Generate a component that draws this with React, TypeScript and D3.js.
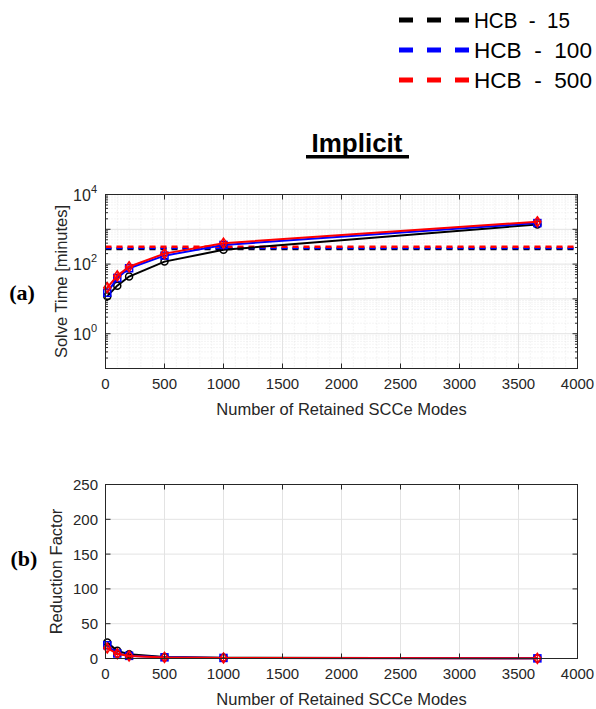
import React from 'react';
import * as d3 from 'd3';

// x positions (number of retained SCCe modes)
const modes = [15, 100, 200, 500, 1000, 3660];

// solve time [minutes]
const solve15 = [12, 24, 44, 118, 257, 1380];
const solve100 = [15, 40, 76, 175, 355, 1510];
const solve500 = [21, 46, 84, 200, 400, 1650];

// HCB reference solve times (dashed lines)
const hcbTimes = [270, 290, 315];

// reduction factor
const red15 = [23, 11, 6, 2.3, 1.0, 0.2];
const red100 = [19, 7.2, 3.8, 1.7, 0.8, 0.2];
const red500 = [15, 6.8, 3.7, 1.6, 0.8, 0.2];

const xTicks = [0, 500, 1000, 1500, 2000, 2500, 3000, 3500, 4000];
const logTicks = [0.1, 1, 10, 100, 1000, 10000];
const logLabels = [0, 2, 4];
const linTicks = [0, 50, 100, 150, 200, 250];

const seriesNames = ['HCB  -  15', 'HCB  -  100', 'HCB  -  500'];
const colors = ['#000000', '#0000ff', '#ff0000'];

const L = 105.5, R = 577.5;
const topA = 194.5, botA = 368.5;
const topB = 484.5, botB = 658.5;

const font = 'Liberation Sans, Arial, sans-serif';
const tickCol = '#262626';

const x = d3.scaleLinear().domain([0, 4000]).range([L, R]);
const yA = d3.scaleLog().domain([0.1, 10000]).range([botA, topA]);
const yB = d3.scaleLinear().domain([0, 250]).range([botB, topB]);

function Marker({ kind, cx, cy, color }: { kind: number; cx: number; cy: number; color: string }) {
  if (kind === 0) return <circle cx={cx} cy={cy} r={3.5} fill="none" stroke={color} strokeWidth={1.5} />;
  if (kind === 1) return <rect x={cx - 3.5} y={cy - 3.5} width={7} height={7} fill="none" stroke={color} strokeWidth={1.5} />;
  return (
    <g stroke={color} strokeWidth={1.5} fill="none">
      <path d={`M${cx},${cy - 5}L${cx + 3.5},${cy}L${cx},${cy + 5}L${cx - 3.5},${cy}Z`} />
      <path d={`M${cx},${cy - 5}V${cy + 5}M${cx - 3.5},${cy}H${cx + 3.5}`} strokeWidth={1} />
    </g>
  );
}

function Series({ ys, y, idx }: { ys: number[]; y: (v: number) => number; idx: number }) {
  const line = d3.line<number>().x((_, i) => x(modes[i])).y(d => y(d));
  return (
    <g>
      <path d={line(ys) || ''} fill="none" stroke={colors[idx]} strokeWidth={2} />
      {ys.map((v, i) => (
        <Marker key={i} kind={idx} cx={x(modes[i])} cy={y(v)} color={colors[idx]} />
      ))}
    </g>
  );
}

function XAxis({ bottom, top }: { bottom: number; top: number }) {
  return (
    <g>
      {xTicks.map(t => (
        <g key={t}>
          <line x1={x(t)} x2={x(t)} y1={bottom} y2={bottom - 5} stroke={tickCol} />
          <line x1={x(t)} x2={x(t)} y1={top} y2={top + 5} stroke={tickCol} />
          <text x={x(t)} y={bottom + 20} textAnchor="middle" fontSize={15} fill={tickCol} fontFamily={font}>{t}</text>
        </g>
      ))}
      <text x={(L + R) / 2} y={bottom + 46} textAnchor="middle" fontSize={16.5} fill={tickCol} fontFamily={font}>
        Number of Retained SCCe Modes
      </text>
    </g>
  );
}

export default function App() {
  const minor: number[] = [];
  for (let d = -1; d < 4; d++) for (let k = 2; k < 10; k++) minor.push(k * Math.pow(10, d));
  const xMinor = d3.range(0, 4001, 100).filter(v => v % 500 !== 0);

  return (
    <svg width={596} height={709} style={{ position: 'absolute', left: 0, top: 0, background: '#fff' }}>
      {/* legend */}
      {seriesNames.map((s, i) => (
        <g key={s}>
          <line x1={399} x2={470} y1={20 + i * 30} y2={20 + i * 30} stroke={colors[i]} strokeWidth={5} strokeDasharray="14 14" />
          <text x={474} y={28 + i * 30} fontSize={22} fill="#000" fontFamily={font} textLength={s.length > 10 ? 118 : 96} lengthAdjust="spacingAndGlyphs">{s.replace(/ /g, '\u00a0')}</text>
        </g>
      ))}

      {/* title */}
      <text x={357} y={152} textAnchor="middle" fontSize={26} fontWeight="bold" fontFamily={font}>Implicit</text>
      <rect x={306} y={155} width={103} height={3.5} fill="#000" />

      {/* panel (a) */}
      <g>
        {xMinor.map(v => (
          <line key={v} x1={x(v)} x2={x(v)} y1={topA} y2={botA} stroke="#dcdcdc" strokeWidth={0.6} strokeDasharray="1 2" />
        ))}
        {minor.map(v => (
          <line key={v} x1={L} x2={R} y1={yA(v)} y2={yA(v)} stroke="#dcdcdc" strokeWidth={0.6} strokeDasharray="1 2" />
        ))}
        {xTicks.map(t => (
          <line key={t} x1={x(t)} x2={x(t)} y1={topA} y2={botA} stroke="#e3e3e3" />
        ))}
        {logTicks.map(t => (
          <line key={t} x1={L} x2={R} y1={yA(t)} y2={yA(t)} stroke="#e3e3e3" />
        ))}
        {minor.map(v => (
          <g key={'t' + v}>
            <line x1={L} x2={L + 2.5} y1={yA(v)} y2={yA(v)} stroke={tickCol} />
            <line x1={R} x2={R - 2.5} y1={yA(v)} y2={yA(v)} stroke={tickCol} />
          </g>
        ))}
        {logTicks.map(t => (
          <g key={'m' + t}>
            <line x1={L} x2={L + 5} y1={yA(t)} y2={yA(t)} stroke={tickCol} />
            <line x1={R} x2={R - 5} y1={yA(t)} y2={yA(t)} stroke={tickCol} />
          </g>
        ))}
        {logLabels.map(p => (
          <text key={p} x={97} y={yA(Math.pow(10, p)) + 6} textAnchor="end" fontSize={16} fill={tickCol} fontFamily={font}>
            10<tspan dy={-8} fontSize={11}>{p}</tspan>
          </text>
        ))}
        {hcbTimes.map((v, i) => (
          <line key={i} x1={L} x2={R} y1={yA(v)} y2={yA(v)} stroke={colors[i]} strokeWidth={2.5} strokeDasharray="6 5" />
        ))}
        <Series ys={solve15} y={yA} idx={0} />
        <Series ys={solve100} y={yA} idx={1} />
        <Series ys={solve500} y={yA} idx={2} />
        <rect x={L} y={topA} width={R - L} height={botA - topA} fill="none" stroke={tickCol} strokeWidth={1} />
        <XAxis bottom={botA} top={topA} />
        <text transform={`translate(67,${(topA + botA) / 2}) rotate(-90)`} textAnchor="middle" fontSize={16.5} fill={tickCol} fontFamily={font}>
          Solve Time [minutes]
        </text>
        <text x={22} y={300} textAnchor="middle" fontSize={22} fontWeight="bold" fontFamily="Liberation Serif, Times New Roman, serif">(a)</text>
      </g>

      {/* panel (b) */}
      <g>
        {xTicks.map(t => (
          <line key={t} x1={x(t)} x2={x(t)} y1={topB} y2={botB} stroke="#e3e3e3" />
        ))}
        {linTicks.map(t => (
          <line key={t} x1={L} x2={R} y1={yB(t)} y2={yB(t)} stroke="#e3e3e3" />
        ))}
        {linTicks.map(t => (
          <g key={'t' + t}>
            <line x1={L} x2={L + 5} y1={yB(t)} y2={yB(t)} stroke={tickCol} />
            <line x1={R} x2={R - 5} y1={yB(t)} y2={yB(t)} stroke={tickCol} />
            <text x={98} y={yB(t) + 5.5} textAnchor="end" fontSize={15} fill={tickCol} fontFamily={font}>{t}</text>
          </g>
        ))}
        <Series ys={red15} y={yB} idx={0} />
        <Series ys={red100} y={yB} idx={1} />
        <Series ys={red500} y={yB} idx={2} />
        <rect x={L} y={topB} width={R - L} height={botB - topB} fill="none" stroke={tickCol} strokeWidth={1} />
        <XAxis bottom={botB} top={topB} />
        <text transform={`translate(62,${(topB + botB) / 2}) rotate(-90)`} textAnchor="middle" fontSize={16.5} fill={tickCol} fontFamily={font}>
          Reduction Factor
        </text>
        <text x={24} y={566} textAnchor="middle" fontSize={22} fontWeight="bold" fontFamily="Liberation Serif, Times New Roman, serif">(b)</text>
      </g>
    </svg>
  );
}
